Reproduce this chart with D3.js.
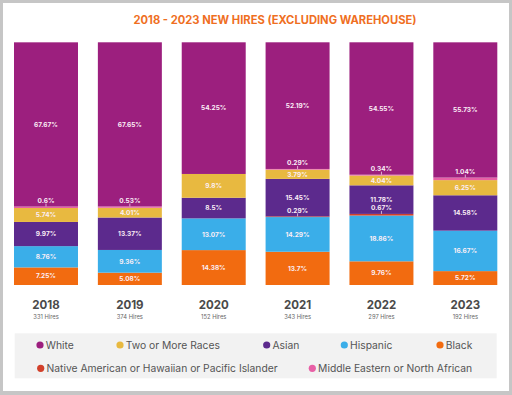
<!DOCTYPE html>
<html>
<head>
<meta charset="utf-8">
<script src="https://cdn.jsdelivr.net/npm/d3@7"></script>
<style>
  html, body { margin: 0; padding: 0; background: #c6c6c6; }
  svg { display: block; font-family: Inter, "Open Sans", sans-serif; }
</style>
</head>
<body>
<div id="chart"></div>
<script>
const years = ["2018", "2019", "2020", "2021", "2022", "2023"];
const hires = [331, 374, 152, 343, 297, 192];

// percent of hires per group, per year
const white = [67.67, 67.65, 54.25, 52.19, 54.55, 55.73];
const middleEastern = [0.6, 0.53, 0, 0.29, 0.34, 1.04];
const twoOrMore = [5.74, 4.01, 9.8, 3.79, 4.04, 6.25];
const asian = [9.97, 13.37, 8.5, 15.45, 11.78, 14.58];
const native = [0, 0, 0, 0.29, 0.67, 0];
const hispanic = [8.76, 9.36, 13.07, 14.29, 18.86, 16.67];
const black = [7.25, 5.08, 14.38, 13.7, 9.76, 5.72];

// stacking order, bottom to top
const groups = [
  { key: "black", name: "Black", values: black, color: "#f26b10" },
  { key: "hispanic", name: "Hispanic", values: hispanic, color: "#3aaee9" },
  { key: "native", name: "Native American or Hawaiian or Pacific Islander", values: native, color: "#d2402a" },
  { key: "asian", name: "Asian", values: asian, color: "#5c2a8d" },
  { key: "two", name: "Two or More Races", values: twoOrMore, color: "#e8b940" },
  { key: "mena", name: "Middle Eastern or North African", values: middleEastern, color: "#e860a6" },
  { key: "white", name: "White", values: white, color: "#9c1f7e" }
];

const legendRows = [
  ["white", "two", "asian", "hispanic", "black"],
  ["native", "mena"]
];

const width = 512, height = 395;

const rows = years.map((y, i) => {
  const r = { year: y };
  groups.forEach(g => r[g.key] = g.values[i]);
  return r;
});

const stack = d3.stack().keys(groups.map(g => g.key));
const series = stack(rows);
const color = d3.scaleOrdinal().domain(groups.map(g => g.key)).range(groups.map(g => g.color));

const x = d3.scaleBand()
  .domain(years)
  .range([14, 497.3])
  .paddingInner(0.237)
  .paddingOuter(0);

const y = d3.scaleLinear()
  .domain([0, 100])
  .range([285, 42.3]);

const svg = d3.select("#chart")
  .append("svg")
  .attr("width", width)
  .attr("height", height);

svg.append("rect")
  .attr("width", width).attr("height", height)
  .attr("fill", "#c6c6c6");

svg.append("rect")
  .attr("x", 3).attr("y", 3)
  .attr("width", 506).attr("height", 388)
  .attr("fill", "#fff");

svg.append("text")
  .attr("x", 275).attr("y", 23.8)
  .attr("text-anchor", "middle")
  .attr("fill", "#ef6f1f")
  .style("font-size", "11.2px")
  .style("font-weight", 700)
  .text("2018 - 2023 NEW HIRES (EXCLUDING WAREHOUSE)");

const layer = svg.append("g")
  .selectAll("g")
  .data(series)
  .join("g")
  .attr("fill", d => color(d.key));

layer.selectAll("rect")
  .data(d => d.map(v => ({ key: d.key, v })))
  .join("rect")
  .attr("x", d => x(d.v.data.year))
  .attr("y", d => y(d.v[1]))
  .attr("width", x.bandwidth())
  .attr("height", d => y(d.v[0]) - y(d.v[1]));

// value labels
const labels = [];
series.forEach(s => {
  s.forEach(v => {
    const val = v.data[s.key];
    if (val <= 0) return;
    labels.push({ key: s.key, year: v.data.year, val, top: y(v[1]), bottom: y(v[0]) });
  });
});

const lab = svg.append("g")
  .selectAll("g")
  .data(labels)
  .join("g");

lab.append("text")
  .attr("x", d => x(d.year) + x.bandwidth() / 2)
  .attr("y", d => d.val < 1.5 ? d.top - 6 : (d.top + d.bottom) / 2)
  .attr("dy", "0.35em")
  .attr("text-anchor", "middle")
  .attr("fill", "#fbeef6")
  .style("font-size", "6.5px")
  .style("font-weight", 700)
  .text(d => d.val + "%");

lab.filter(d => d.val < 1.5)
  .append("line")
  .attr("x1", d => x(d.year) + x.bandwidth() / 2)
  .attr("x2", d => x(d.year) + x.bandwidth() / 2)
  .attr("y1", d => d.top - 3)
  .attr("y2", d => d.top)
  .attr("stroke", "#fbeef6")
  .attr("stroke-width", 0.7);

// year axis
const axis = svg.append("g")
  .selectAll("g")
  .data(years)
  .join("g")
  .attr("transform", d => `translate(${x(d) + x.bandwidth() / 2},0)`);

axis.append("text")
  .attr("y", 309)
  .attr("text-anchor", "middle")
  .attr("fill", "#4a4a4a")
  .style("font-size", "11.5px")
  .style("font-weight", 700)
  .text(d => d);

axis.append("text")
  .attr("y", 318.8)
  .attr("text-anchor", "middle")
  .attr("fill", "#666")
  .style("font-size", "5.8px")
  .text((d, i) => hires[i] + " Hires");

// legend
svg.append("rect")
  .attr("x", 14.7).attr("y", 333.3)
  .attr("width", 482).attr("height", 45)
  .attr("fill", "#f2f2f2");

const legendPos = {
  white: [40, 345], two: [120, 345], asian: [266.7, 345], hispanic: [344.3, 345], black: [440, 345],
  native: [40.7, 368.3], mena: [312.3, 368.3]
};

const leg = svg.append("g")
  .selectAll("g")
  .data(legendRows.flat())
  .join("g")
  .attr("transform", k => `translate(${legendPos[k][0]},${legendPos[k][1]})`);

leg.append("circle")
  .attr("r", 3.6)
  .attr("fill", k => color(k));

leg.append("text")
  .attr("x", 5.8)
  .attr("dy", "0.36em")
  .attr("fill", "#555")
  .style("font-size", "10.3px")
  .text(k => groups.find(g => g.key === k).name);
</script>
</body>
</html>
